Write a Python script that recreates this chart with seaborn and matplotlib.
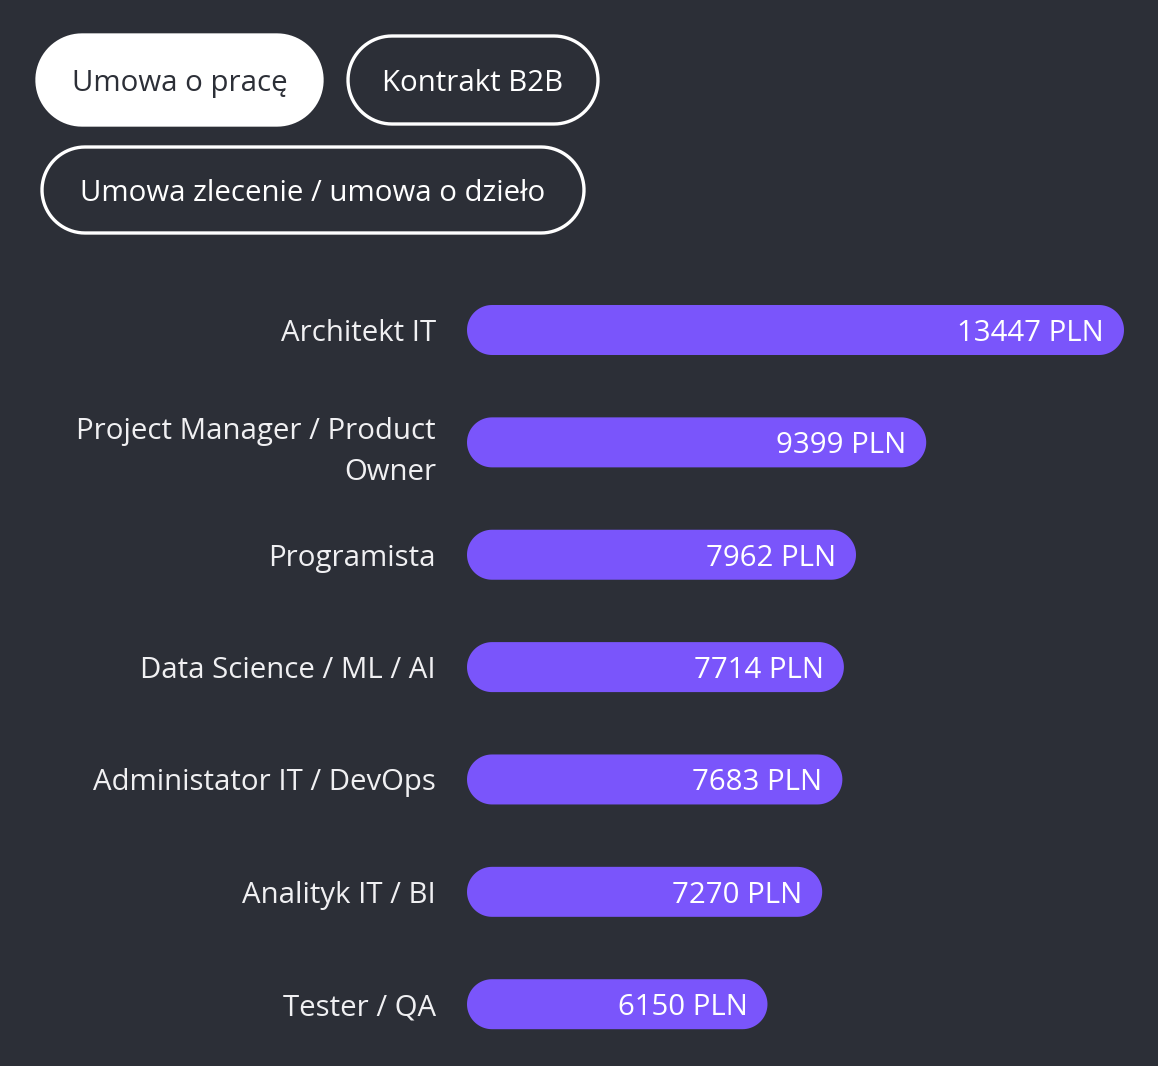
import matplotlib
matplotlib.use("Agg")
import numpy as np
import matplotlib.pyplot as plt
import seaborn as sns
import pandas as pd
from matplotlib.patches import Polygon

categories = ["Architekt IT", "Project Manager / Product\nOwner", "Programista",
              "Data Science / ML / AI", "Administator IT / DevOps",
              "Analityk IT / BI", "Tester / QA"]
salaries = [13447, 9399, 7962, 7714, 7683, 7270, 6150]
buttons = ["Umowa o pracę", "Kontrakt B2B", "Umowa zlecenie / umowa o dzieło"]
unit = "PLN"

BG = "#2c2f37"
BAR = "#7a55fb"
TXT = "#f0f0f2"
FONT = ["Open Sans", "DejaVu Sans"]
FS = 21.2

sns.set_theme(style="white")
plt.rcParams["font.family"] = FONT

W, H = 1158, 1066
fig = plt.figure(figsize=(W / 100, H / 100), dpi=100, facecolor=BG)

ax = fig.add_axes([467 / W, 0, 1 - 467 / W, (H - 260) / H])
ax.set_facecolor(BG)

df = pd.DataFrame({"role": categories, "salary": salaries})
sns.barplot(data=df, x="salary", y="role", orient="h", color=BAR, width=0.445,
            ax=ax, saturation=1)

xmax = 13447 * (W - 467) / 657
ax.set_xlim(0, xmax)
ax.set_ylim(6.55, -0.623)

fig.canvas.draw()
dx = xmax / ax.bbox.width
dy = (6.55 + 0.623) / ax.bbox.height


def stadium(x0, y0, w, h, sx, sy, n=40):
    """Stadium outline; sx, sy = units per pixel in x and y."""
    r_y = h / 2
    r_x = (h / sy) / 2 * sx
    cy = y0 + h / 2
    t1 = np.linspace(-np.pi / 2, np.pi / 2, n)
    right = np.column_stack([x0 + w - r_x + r_x * np.cos(t1), cy + r_y * np.sin(t1)])
    t2 = np.linspace(np.pi / 2, 3 * np.pi / 2, n)
    left = np.column_stack([x0 + r_x + r_x * np.cos(t2), cy + r_y * np.sin(t2)])
    return np.vstack([right, left])


for p in list(ax.patches):
    x0, y0 = p.get_x(), p.get_y()
    w, h = p.get_width(), p.get_height()
    p.remove()
    ax.add_patch(Polygon(stadium(x0, y0, w, h, dx, dy), closed=True,
                         facecolor=BAR, edgecolor="none"))
    ax.text(x0 + w - 20 * dx, y0 + h / 2, f"{int(round(w))} {unit}",
            ha="right", va="center_baseline", color="white", fontsize=FS,
            family=FONT)

ax.set_xlabel("")
ax.set_ylabel("")
ax.set_xticks([])
ax.tick_params(axis="y", length=0, pad=22.3, labelsize=FS, labelcolor=TXT)
for lab in ax.get_yticklabels():
    lab.set_horizontalalignment("right")
    lab.set_multialignment("right")
    lab.set_linespacing(1.55)
for s in ax.spines.values():
    s.set_visible(False)


def pill(x0, y0, x1, y1, text, filled):
    verts = stadium(x0 / W, 1 - y1 / H, (x1 - x0) / W, (y1 - y0) / H, 1 / W, 1 / H)
    patch = Polygon(verts, closed=True, transform=fig.transFigure,
                    facecolor="white" if filled else BG,
                    edgecolor="white", linewidth=2.4)
    fig.patches.append(patch)
    fig.text((x0 + x1) / 2 / W, 1 - (y0 + y1) / 2 / H, text,
             ha="center", va="center_baseline", fontsize=FS,
             color="#2c2f37" if filled else "white", family=FONT)


pill(37, 35, 322, 125, buttons[0], True)
pill(348, 36, 598, 124, buttons[1], False)
pill(42, 147, 584, 233, buttons[2], False)

fig.savefig("out.png", dpi=100, facecolor=BG)
